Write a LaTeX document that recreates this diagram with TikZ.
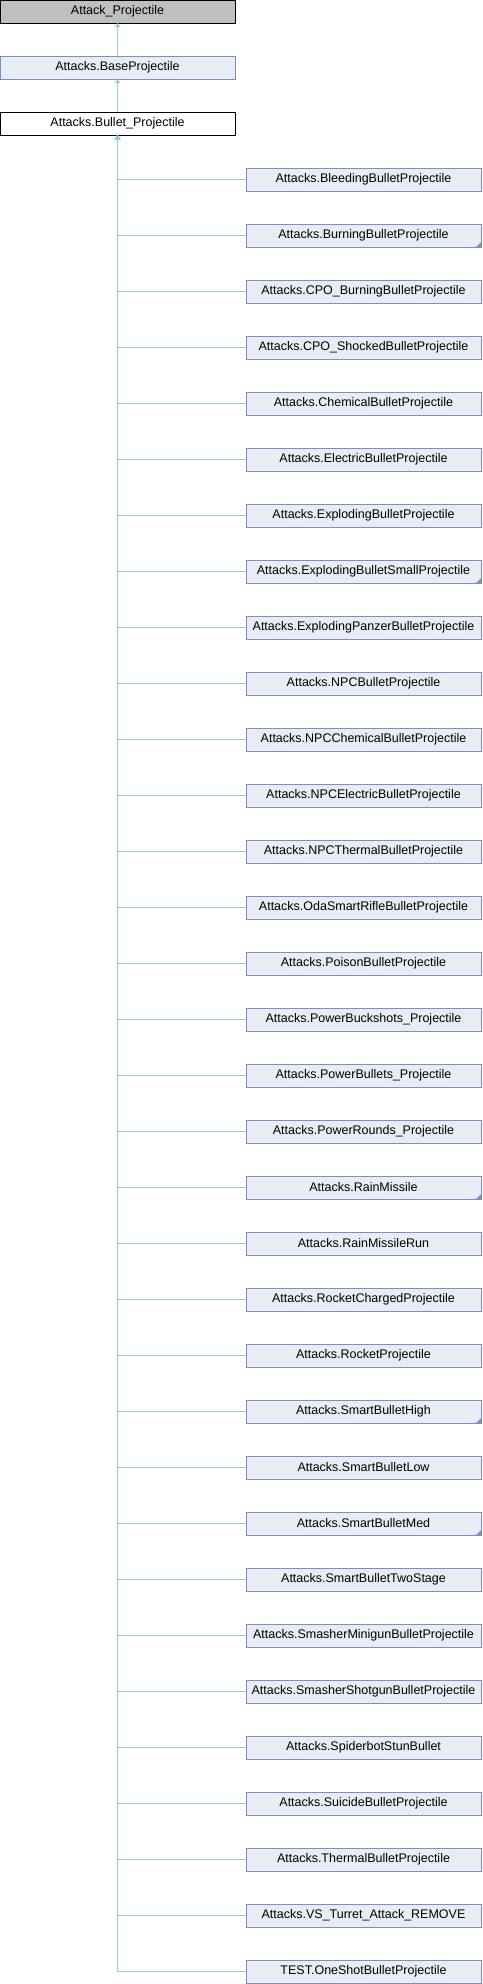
\documentclass[tikz,border=0pt]{standalone}
\usepackage{fontspec}
\setmainfont{Liberation Sans}
\usetikzlibrary{positioning,arrows.meta}
\definecolor{doxyfill}{RGB}{232,236,244}
\definecolor{doxyborder}{RGB}{122,142,200}
\definecolor{doxyline}{RGB}{150,202,236}
\definecolor{doxygray}{RGB}{191,191,191}
\begin{document}
\begin{tikzpicture}[x=1pt,y=1pt]

    % Styles
    \tikzstyle{classbox} = [rectangle, minimum width=235pt, minimum height=23pt, inner sep=0pt, outer sep=0pt, text centered, line width=1pt, font=\fontsize{12.5}{15}\selectfont]
    \tikzstyle{topclass} = [classbox, draw=black, fill=doxygray]
    \tikzstyle{mainclass} = [classbox, draw=black, fill=white]
    \tikzstyle{subclass} = [classbox, draw=doxyborder, fill=doxyfill]
    \tikzstyle{arrow} = [line width=1pt, draw=doxyline, ->, >={Triangle[length=4pt,width=5pt]}]
    \tikzstyle{corner} = [fill=doxyborder]

    \useasboundingbox (0,0) rectangle (482,-1984);

    % Nodes
    \node (attack) [topclass] at (117.5,-11.5) {Attack\_Projectile};
    \node (base) [subclass, below=33pt of attack] {Attacks.BaseProjectile};
    \node (bullet) [mainclass, below=33pt of base] {Attacks.Bullet\_Projectile};
    \node (bleeding) [subclass, below right=33pt and 11pt of bullet] {Attacks.BleedingBulletProjectile};
    \node (burning) [subclass, below=33pt of bleeding] {Attacks.BurningBulletProjectile};
    \node (cpoburning) [subclass, below=33pt of burning] {Attacks.CPO\_BurningBulletProjectile};
    \node (cposhocked) [subclass, below=33pt of cpoburning] {Attacks.CPO\_ShockedBulletProjectile};
    \node (chemical) [subclass, below=33pt of cposhocked] {Attacks.ChemicalBulletProjectile};
    \node (electric) [subclass, below=33pt of chemical] {Attacks.ElectricBulletProjectile};
    \node (exploding) [subclass, below=33pt of electric] {Attacks.ExplodingBulletProjectile};
    \node (explodingsmall) [subclass, below=33pt of exploding] {Attacks.ExplodingBulletSmallProjectile};
    \node (panzer) [subclass, below=33pt of explodingsmall] {Attacks.ExplodingPanzerBulletProjectile};
    \node (npc) [subclass, below=33pt of panzer] {Attacks.NPCBulletProjectile};
    \node (npcchemical) [subclass, below=33pt of npc] {Attacks.NPCChemicalBulletProjectile};
    \node (npcelectric) [subclass, below=33pt of npcchemical] {Attacks.NPCElectricBulletProjectile};
    \node (npcthermal) [subclass, below=33pt of npcelectric] {Attacks.NPCThermalBulletProjectile};
    \node (oda) [subclass, below=33pt of npcthermal] {Attacks.OdaSmartRifleBulletProjectile};
    \node (poison) [subclass, below=33pt of oda] {Attacks.PoisonBulletProjectile};
    \node (buckshots) [subclass, below=33pt of poison] {Attacks.PowerBuckshots\_Projectile};
    \node (powerbullets) [subclass, below=33pt of buckshots] {Attacks.PowerBullets\_Projectile};
    \node (powerrounds) [subclass, below=33pt of powerbullets] {Attacks.PowerRounds\_Projectile};
    \node (rain) [subclass, below=33pt of powerrounds] {Attacks.RainMissile};
    \node (rainrun) [subclass, below=33pt of rain] {Attacks.RainMissileRun};
    \node (rocketcharged) [subclass, below=33pt of rainrun] {Attacks.RocketChargedProjectile};
    \node (rocket) [subclass, below=33pt of rocketcharged] {Attacks.RocketProjectile};
    \node (smarthigh) [subclass, below=33pt of rocket] {Attacks.SmartBulletHigh};
    \node (smartlow) [subclass, below=33pt of smarthigh] {Attacks.SmartBulletLow};
    \node (smartmed) [subclass, below=33pt of smartlow] {Attacks.SmartBulletMed};
    \node (twostage) [subclass, below=33pt of smartmed] {Attacks.SmartBulletTwoStage};
    \node (minigun) [subclass, below=33pt of twostage] {Attacks.SmasherMinigunBulletProjectile};
    \node (shotgun) [subclass, below=33pt of minigun] {Attacks.SmasherShotgunBulletProjectile};
    \node (spiderbot) [subclass, below=33pt of shotgun] {Attacks.SpiderbotStunBullet};
    \node (suicide) [subclass, below=33pt of spiderbot] {Attacks.SuicideBulletProjectile};
    \node (thermal) [subclass, below=33pt of suicide] {Attacks.ThermalBulletProjectile};
    \node (turret) [subclass, below=33pt of thermal] {Attacks.VS\_Turret\_Attack\_REMOVE};
    \node (oneshot) [subclass, below=33pt of turret] {TEST.OneShotBulletProjectile};

    % Corners
    \fill [corner] (burning.south east) -- ++(-5,0) -- ++(5,5) -- cycle;
    \fill [corner] (explodingsmall.south east) -- ++(-5,0) -- ++(5,5) -- cycle;
    \fill [corner] (rain.south east) -- ++(-5,0) -- ++(5,5) -- cycle;
    \fill [corner] (smarthigh.south east) -- ++(-5,0) -- ++(5,5) -- cycle;
    \fill [corner] (smartmed.south east) -- ++(-5,0) -- ++(5,5) -- cycle;

    % Arrows
    \draw [arrow] (base) -- (attack);
    \draw [arrow] (bullet) -- (base);
    \draw [arrow] (bleeding.west) -| (bullet.south);
    \draw [arrow] (burning.west) -| (bullet.south);
    \draw [arrow] (cpoburning.west) -| (bullet.south);
    \draw [arrow] (cposhocked.west) -| (bullet.south);
    \draw [arrow] (chemical.west) -| (bullet.south);
    \draw [arrow] (electric.west) -| (bullet.south);
    \draw [arrow] (exploding.west) -| (bullet.south);
    \draw [arrow] (explodingsmall.west) -| (bullet.south);
    \draw [arrow] (panzer.west) -| (bullet.south);
    \draw [arrow] (npc.west) -| (bullet.south);
    \draw [arrow] (npcchemical.west) -| (bullet.south);
    \draw [arrow] (npcelectric.west) -| (bullet.south);
    \draw [arrow] (npcthermal.west) -| (bullet.south);
    \draw [arrow] (oda.west) -| (bullet.south);
    \draw [arrow] (poison.west) -| (bullet.south);
    \draw [arrow] (buckshots.west) -| (bullet.south);
    \draw [arrow] (powerbullets.west) -| (bullet.south);
    \draw [arrow] (powerrounds.west) -| (bullet.south);
    \draw [arrow] (rain.west) -| (bullet.south);
    \draw [arrow] (rainrun.west) -| (bullet.south);
    \draw [arrow] (rocketcharged.west) -| (bullet.south);
    \draw [arrow] (rocket.west) -| (bullet.south);
    \draw [arrow] (smarthigh.west) -| (bullet.south);
    \draw [arrow] (smartlow.west) -| (bullet.south);
    \draw [arrow] (smartmed.west) -| (bullet.south);
    \draw [arrow] (twostage.west) -| (bullet.south);
    \draw [arrow] (minigun.west) -| (bullet.south);
    \draw [arrow] (shotgun.west) -| (bullet.south);
    \draw [arrow] (spiderbot.west) -| (bullet.south);
    \draw [arrow] (suicide.west) -| (bullet.south);
    \draw [arrow] (thermal.west) -| (bullet.south);
    \draw [arrow] (turret.west) -| (bullet.south);
    \draw [arrow] (oneshot.west) -| (bullet.south);

\end{tikzpicture}
\end{document}
